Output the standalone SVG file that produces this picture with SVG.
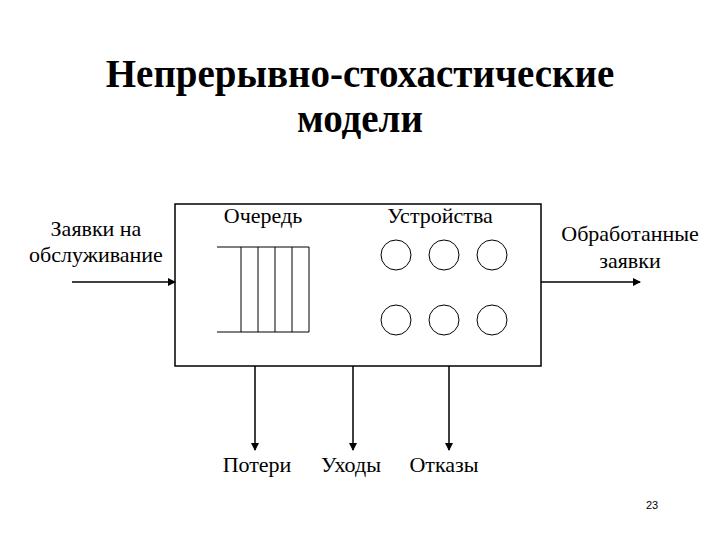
<svg xmlns="http://www.w3.org/2000/svg" width="720" height="540" viewBox="0 0 720 540">
<style>
.t{font-family:"Liberation Serif",serif;fill:#000}
.l{stroke:#000;stroke-width:1.5;fill:none}
.a{stroke:#000;stroke-width:1.5;fill:none;marker-end:url(#ah)}
.c{stroke:#000;stroke-width:1;fill:#fff}
</style>
<defs><marker id="ah" markerWidth="8" markerHeight="8" refX="7" refY="4" orient="auto" markerUnits="userSpaceOnUse"><path d="M0,0L8,4L0,8z" fill="#000"/></marker></defs>
<rect width="720" height="540" fill="#fff"/>
<text class="t" x="360" y="87" font-size="39" font-weight="bold" text-anchor="middle">Непрерывно-стохастические</text>
<text class="t" x="360" y="132" font-size="39" font-weight="bold" text-anchor="middle">модели</text>
<g id="system">
<rect x="175" y="204" width="366" height="162" class="l"/>
<text class="t" x="263" y="223" font-size="22" text-anchor="middle">Очередь</text>
<text class="t" x="440" y="223" font-size="22" text-anchor="middle">Устройства</text>
</g>
<g id="queue" stroke="#000" stroke-width="1">
<line x1="217" y1="247" x2="309" y2="247"/><line x1="217" y1="332" x2="309" y2="332"/>
<line x1="241" y1="247" x2="241" y2="332"/><line x1="258" y1="247" x2="258" y2="332"/>
<line x1="275" y1="247" x2="275" y2="332"/><line x1="292" y1="247" x2="292" y2="332"/>
<line x1="309" y1="247" x2="309" y2="332"/>
</g>
<g id="devices">
<circle class="c" cx="396" cy="255" r="15"/><circle class="c" cx="444" cy="255" r="15"/><circle class="c" cx="492" cy="255" r="15"/>
<circle class="c" cx="396" cy="320" r="15"/><circle class="c" cx="444" cy="320" r="15"/><circle class="c" cx="492" cy="320" r="15"/>
</g>
<g id="labels">
<text class="t" x="96" y="236" font-size="22" text-anchor="middle">Заявки на</text>
<text class="t" x="96" y="262" font-size="22" text-anchor="middle">обслуживание</text>
<text class="t" x="630" y="241" font-size="22" text-anchor="middle">Обработанные</text>
<text class="t" x="630" y="268" font-size="22" text-anchor="middle">заявки</text>
<text class="t" x="257" y="472" font-size="22" text-anchor="middle">Потери</text>
<text class="t" x="351" y="472" font-size="22" text-anchor="middle">Уходы</text>
<text class="t" x="444" y="472" font-size="22" text-anchor="middle">Отказы</text>
<text x="652" y="509" font-size="11" font-family="Liberation Sans,sans-serif" text-anchor="middle">23</text>
</g>
<g id="connectors">
<line class="a" x1="72" y1="282" x2="175" y2="282"/>
<line class="a" x1="541" y1="282" x2="640" y2="282"/>
<line class="a" x1="255" y1="366" x2="255" y2="450"/>
<line class="a" x1="353" y1="366" x2="353" y2="450"/>
<line class="a" x1="449" y1="366" x2="449" y2="450"/>
</g>
</svg>
